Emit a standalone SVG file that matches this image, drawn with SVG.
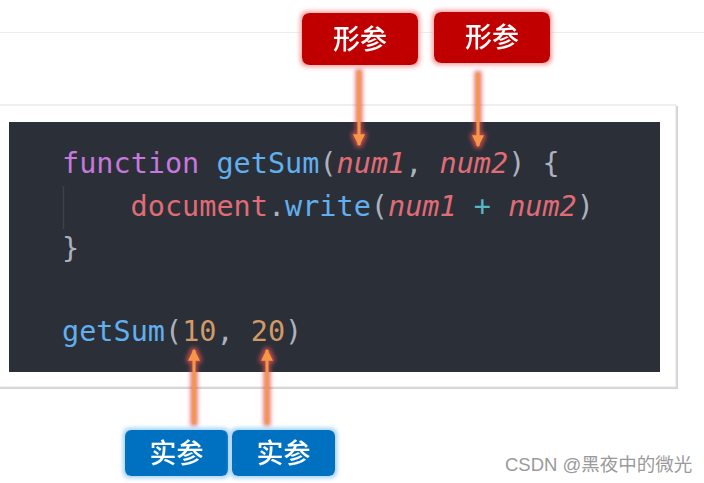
<svg xmlns="http://www.w3.org/2000/svg" width="704" height="483" viewBox="0 0 704 483">
<defs>
<style>
.code{font-family:"DejaVu Sans Mono","Liberation Mono",monospace;font-size:28.5px;}
.it{font-style:italic;}
.kw{fill:#c678dd}.fn{fill:#61afef}.pn{fill:#abb2bf}.vr{fill:#e06c75}.op{fill:#56b6c2}.nm{fill:#d19a66}
.lbl{font-family:"Noto Sans CJK SC","Noto Sans",sans-serif;font-size:27px;font-weight:500;fill:#fff;text-anchor:middle;}
.red{fill:#c00000;}
.blue{fill:#0070c0;}
.arrow{stroke:#f79646;stroke-width:3;fill:none;}
</style>
<filter id="glowR" x="-20%" y="-20%" width="140%" height="140%">
<feMorphology in="SourceAlpha" operator="dilate" radius="2" result="d"/>
<feGaussianBlur in="d" stdDeviation="2" result="b"/>
<feFlood flood-color="#f4a0a0"/>
<feComposite in2="b" operator="in" result="g"/>
<feMerge><feMergeNode in="g"/><feMergeNode in="SourceGraphic"/></feMerge>
</filter>
<filter id="glowB" x="-20%" y="-20%" width="140%" height="140%">
<feMorphology in="SourceAlpha" operator="dilate" radius="2" result="d"/>
<feGaussianBlur in="d" stdDeviation="2" result="b"/>
<feFlood flood-color="#9fd0f5"/>
<feComposite in2="b" operator="in" result="g"/>
<feMerge><feMergeNode in="g"/><feMergeNode in="SourceGraphic"/></feMerge>
</filter>
<filter id="glowA" x="-100%" y="-10%" width="300%" height="120%">
<feMorphology in="SourceAlpha" operator="dilate" radius="2" result="d"/>
<feGaussianBlur in="d" stdDeviation="2" result="b"/>
<feFlood flood-color="#e05050" flood-opacity="0.8"/>
<feComposite in2="b" operator="in" result="g"/>
<feMerge><feMergeNode in="g"/><feMergeNode in="SourceGraphic"/></feMerge>
</filter>
<marker id="ah" viewBox="0 0 10 10" refX="9" refY="5" markerWidth="4" markerHeight="4" orient="auto" markerUnits="strokeWidth">
<path d="M0,0 L10,5 L0,10 Z" fill="#f79646"/>
</marker>
</defs>
<rect width="704" height="483" fill="#ffffff"/>
<line x1="0" y1="32.5" x2="704" y2="32.5" stroke="#ececec" stroke-width="1"/>

<g id="card">
<rect x="-4" y="106" width="682" height="283" fill="#d4d4d4"/>
<rect x="-4" y="105" width="680" height="282" fill="#ffffff" stroke="#e0e0e0" stroke-width="1"/>
<rect x="9" y="122" width="651" height="250" fill="#2b2f38"/>
<line x1="63.5" y1="186" x2="63.5" y2="229" stroke="#3c414b" stroke-width="1.5"/>
<text class="code" x="62" y="173"><tspan class="kw">function</tspan><tspan class="fn"> getSum</tspan><tspan class="pn">(</tspan><tspan class="vr it">num1</tspan><tspan class="pn">, </tspan><tspan class="vr it">num2</tspan><tspan class="pn">) {</tspan></text>
<text class="code" x="130.6" y="216"><tspan class="vr">document</tspan><tspan class="pn">.</tspan><tspan class="fn">write</tspan><tspan class="pn">(</tspan><tspan class="vr it">num1</tspan><tspan class="op"> + </tspan><tspan class="vr it">num2</tspan><tspan class="pn">)</tspan></text>
<text class="code" x="62" y="258"><tspan class="pn">}</tspan></text>
<text class="code" x="62" y="341"><tspan class="fn">getSum</tspan><tspan class="pn">(</tspan><tspan class="nm">10</tspan><tspan class="pn">, </tspan><tspan class="nm">20</tspan><tspan class="pn">)</tspan></text>
</g>

<g id="connectors" filter="url(#glowA)">
<line class="arrow" x1="359" y1="71" x2="359" y2="145" marker-end="url(#ah)"/>
<line class="arrow" x1="478" y1="73" x2="478" y2="146" marker-end="url(#ah)"/>
<line class="arrow" x1="194" y1="424" x2="194" y2="350" marker-end="url(#ah)"/>
<line class="arrow" x1="267" y1="424" x2="267" y2="350" marker-end="url(#ah)"/>
</g>

<g id="param1" filter="url(#glowR)">
<rect class="red" x="302" y="13" width="116" height="52" rx="7"/>
<text class="lbl" x="360" y="49">形参</text>
</g>
<g id="param2" filter="url(#glowR)">
<rect class="red" x="434" y="12" width="116" height="51" rx="7"/>
<text class="lbl" x="492" y="47">形参</text>
</g>
<g id="arg1" filter="url(#glowB)">
<rect class="blue" x="125" y="430" width="103" height="46" rx="6"/>
<text class="lbl" x="176.5" y="463">实参</text>
</g>
<g id="arg2" filter="url(#glowB)">
<rect class="blue" x="232" y="430" width="103" height="46" rx="6"/>
<text class="lbl" x="283.5" y="463">实参</text>
</g>

<text x="505" y="471" font-family="'Liberation Sans','Noto Sans CJK SC',sans-serif" font-size="18.5" fill="#9a9a9a">CSDN @黑夜中的微光</text>
</svg>
